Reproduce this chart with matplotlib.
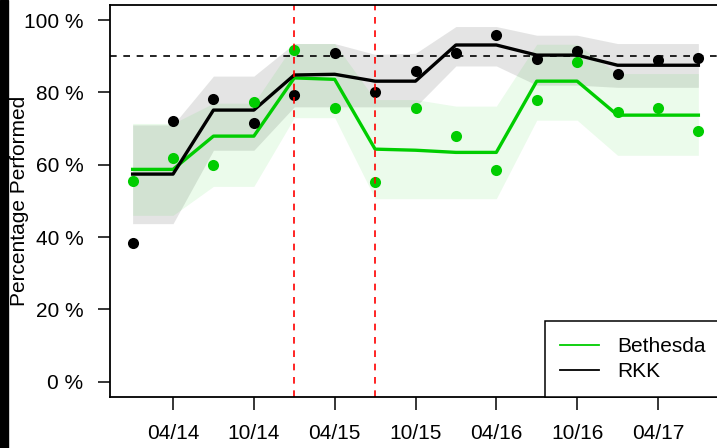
import matplotlib
matplotlib.use("Agg")
import matplotlib.pyplot as plt
from matplotlib.patches import Rectangle

plt.rcParams["font.family"] = ["Liberation Sans", "DejaVu Sans"]

# quarters from 01/14 to 07/17
quarter = list(range(15))
tick_pos = [1, 3, 5, 7, 9, 11, 13]
tick_labels = ["04/14", "10/14", "04/15", "10/15", "04/16", "10/16", "04/17"]
events = [4, 6]

rkk_points = [38.3, 72.0, 78.1, 71.6, 79.2, 90.9, 80.1, 85.9, 90.8, 95.8, 89.1, 91.4, 85.2, 88.9, 89.4]
rkk_smooth = [57.4, 57.4, 75.1, 75.1, 84.8, 85.0, 83.1, 83.1, 93.1, 93.1, 90.3, 90.3, 87.5, 87.5, 87.5]
rkk_upper = [71.0, 71.0, 84.5, 84.5, 93.5, 93.5, 90.5, 90.8, 98.2, 98.2, 95.8, 95.8, 93.5, 93.5, 93.5]
rkk_lower = [43.7, 43.7, 64.0, 64.0, 76.0, 76.0, 76.0, 76.0, 87.3, 87.3, 82.0, 82.0, 81.4, 81.4, 81.4]

beth_points = [55.4, 61.8, 60.0, 77.2, 91.6, 75.6, 55.2, 75.7, 68.0, 58.6, 77.9, 88.5, 74.5, 75.7, 69.3]
beth_smooth = [58.7, 58.7, 67.9, 67.9, 84.0, 83.6, 64.3, 64.0, 63.4, 63.4, 83.1, 83.1, 73.7, 73.7, 73.7]
beth_upper = [71.4, 71.4, 77.0, 77.0, 93.5, 93.5, 78.0, 78.0, 76.2, 76.2, 93.3, 93.3, 85.2, 85.2, 85.2]
beth_lower = [46.0, 46.0, 54.0, 54.0, 73.0, 73.0, 50.6, 50.6, 50.6, 50.6, 72.3, 72.3, 62.6, 62.6, 62.6]

green = "#00CD00"

fig = plt.figure(figsize=(7.17, 4.48), dpi=100)
ax = fig.add_axes([110 / 717, 1 - 396.7 / 448, 611 / 717, 391.7 / 448])

ax.fill_between(quarter, rkk_lower, rkk_upper, color="#bdbdbd", alpha=0.4, lw=0)
ax.fill_between(quarter, beth_lower, beth_upper, color=green, alpha=0.08, lw=0)

ax.axhline(90, color="black", ls=(0, (4, 4)), lw=1.2)

ax.plot(quarter, beth_smooth, color=green, lw=2.4, label="Bethesda", solid_joinstyle="round")
ax.plot(quarter, rkk_smooth, color="black", lw=2.4, label="RKK", solid_joinstyle="round")
ax.plot(quarter, beth_points, "o", color=green, ms=8, mec="none")
ax.plot(quarter, rkk_points, "o", color="black", ms=8, mec="none")

for e in events:
    ax.axvline(e, color="red", ls=(0, (4, 4)), lw=1.2)

ax.set_xlim(-0.56, 14.56)
ax.set_ylim(-4.16, 104.16)
ax.set_xticks(tick_pos)
ax.set_xticklabels(tick_labels)
ax.set_yticks([0, 20, 40, 60, 80, 100])
ax.set_yticklabels(["0 %", "20 %", "40 %", "60 %", "80 %", "100 %"])
ax.tick_params(axis="both", labelsize=15, length=9, width=1.1)
ax.tick_params(axis="x", pad=11)
ax.tick_params(axis="y", pad=10)
for s in ax.spines.values():
    s.set_linewidth(1.3)

ax.set_ylabel("Percentage Performed", fontsize=15)
ax.yaxis.set_label_coords(-0.133, 0.5)

leg = ax.legend(loc="lower right", bbox_to_anchor=(1, 0), borderaxespad=0, fontsize=15,
                fancybox=False, edgecolor="black", framealpha=1, handlelength=1.85,
                handletextpad=0.87, borderpad=0.75, labelspacing=0.3)
leg.get_frame().set_linewidth(1.1)
for h in leg.get_lines():
    h.set_linewidth(1.3)

# black strip at the left edge of the screenshot
fig.patches.append(Rectangle((0, 0), 8 / 717, 1, transform=fig.transFigure, color="black"))

fig.savefig("out.png", dpi=100)
